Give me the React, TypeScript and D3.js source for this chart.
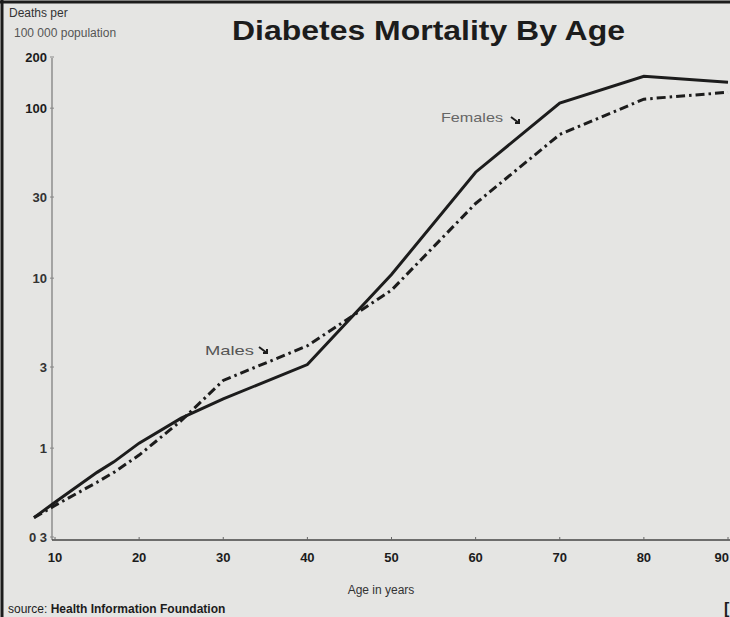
import React, { useEffect } from "react";
import * as d3 from "d3";

const W = 730;
const H = 617;

// ages (years) and deaths per 100 000 population
const ages = [7.5, 10, 15, 17, 20, 25, 30, 40, 50, 60, 70, 80, 90];
const females = [0.39, 0.48, 0.72, 0.83, 1.07, 1.5, 1.95, 3.1, 10.5, 42, 107, 154, 142];
const males = [0.39, 0.46, 0.63, 0.72, 0.91, 1.45, 2.5, 4.0, 8.5, 27.5, 70, 113, 124];

const yTicks = [200, 100, 30, 10, 3, 1, 0.3];
const yTickLabels = ["200", "100", "30", "10", "3", "1", "0 3"];
const xTicks = [10, 20, 30, 40, 50, 60, 70, 80, 90];

const ink = "#1c1c1c";
const font = "'Liberation Sans', Arial, sans-serif";

const App = () => {
  useEffect(() => {
    document.body.style.margin = "0";
  }, []);

  const x = d3.scaleLinear().domain([10, 90]).range([55, 728]);
  const y = d3.scaleLog().domain([0.3, 200]).range([537, 57]);

  const line = d3
    .line<number>()
    .x((d, i) => x(ages[i]))
    .y((d) => y(d));

  const axisY = 540;

  return (
    <svg width={W} height={H} style={{ display: "block", background: "#e5e5e3" }} fontFamily={font}>
      {/* frame */}
      <line x1={0} x2={W} y1={2} y2={2} stroke={ink} strokeWidth={3} />
      <line x1={2} x2={2} y1={0} y2={H} stroke={ink} strokeWidth={3} />

      {/* title */}
      <text x={232} y={40} fontSize={27} fontWeight="bold" fill={ink} textLength={393} lengthAdjust="spacingAndGlyphs">
        Diabetes Mortality By Age
      </text>

      {/* y axis title */}
      <text x={9} y={17} fontSize={12} fill="#333">Deaths per</text>
      <text x={14} y={37} fontSize={12} fill="#555">100 000 population</text>

      {/* y axis */}
      <line x1={52} x2={52} y1={58} y2={axisY} stroke="#777" strokeWidth={1.2} />
      {yTicks.map((t, i) => (
        <g key={t}>
          <line x1={50} x2={54} y1={y(t)} y2={y(t)} stroke="#888" strokeWidth={1} />
          <text x={47} y={y(t) + 5} fontSize={13} fontWeight="bold" fill={i < 2 ? ink : "#333"} textAnchor="end">
            {yTickLabels[i]}
          </text>
        </g>
      ))}

      {/* x axis */}
      <line x1={52} x2={W} y1={axisY} y2={axisY} stroke="#444" strokeWidth={1.5} />
      {xTicks.map((t, i) => {
        const last = i === xTicks.length - 1;
        return (
          <g key={t}>
            <line x1={x(t)} x2={x(t)} y1={axisY - 3} y2={axisY} stroke="#666" strokeWidth={1} />
            <text
              x={last ? W - 1 : x(t)}
              y={axisY + 22}
              fontSize={13}
              fontWeight="bold"
              fill={ink}
              textAnchor={last ? "end" : "middle"}
            >
              {t}
            </text>
          </g>
        );
      })}
      <text x={381} y={594} fontSize={12} fill="#333" textAnchor="middle">Age in years</text>

      {/* source */}
      <text x={8} y={613} fontSize={12} fill={ink}>
        source: <tspan fontWeight="bold">Health Information Foundation</tspan>
      </text>
      <text x={724} y={614} fontSize={16} fontWeight="bold" fill={ink}>[</text>

      {/* series */}
      <path d={line(males) || ""} fill="none" stroke={ink} strokeWidth={3} strokeDasharray="9 4 2.5 4" />
      <path d={line(females) || ""} fill="none" stroke={ink} strokeWidth={3} />

      {/* labels */}
      <text x={441} y={122} fontSize={13} fill="#666" textLength={62} lengthAdjust="spacingAndGlyphs">Females</text>
      <path d="M511,117 L519,123 M515,123 L519,123 L519,119" stroke={ink} strokeWidth={2} fill="none" />
      <text x={205} y={355} fontSize={13} fill="#555" textLength={49} lengthAdjust="spacingAndGlyphs">Males</text>
      <path d="M259,347 L267,353 M263,353 L267,353 L267,349" stroke={ink} strokeWidth={2} fill="none" />
    </svg>
  );
};

export default App;
